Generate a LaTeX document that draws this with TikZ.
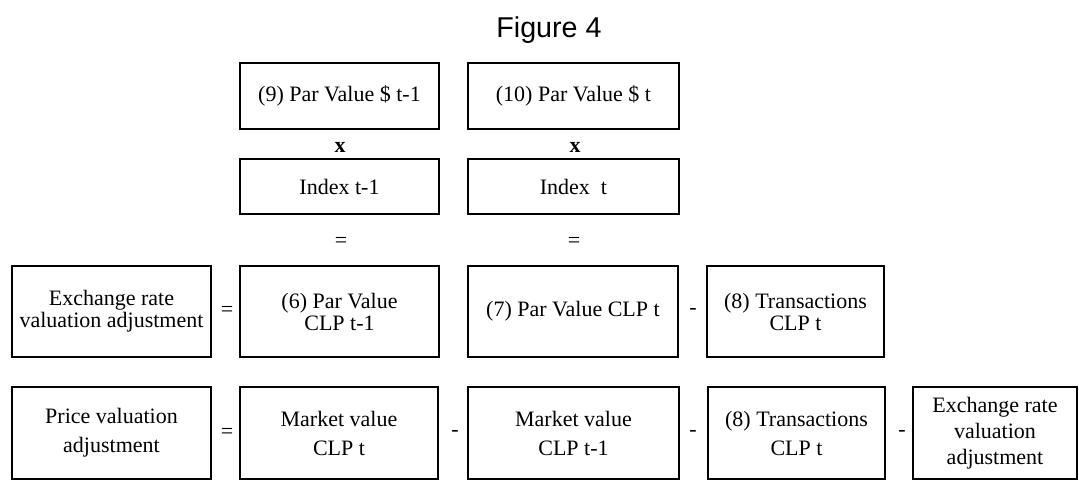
\documentclass[tikz,border=0pt]{standalone}
\usepackage{fontspec}
\setmainfont{Liberation Serif}
\newfontfamily\titlefont{Liberation Sans}
\tikzset{
  box/.style={draw=black, line width=1.3pt, rectangle, align=center, inner sep=1pt,
              font=\fontsize{16.5}{16.5}\selectfont},
  rowthree/.style={box, minimum height=68.25pt, font=\fontsize{16.5}{16.5}\selectfont},
  rowfour/.style={box, minimum height=69pt, font=\fontsize{16.5}{21.75}\selectfont},
  op/.style={inner sep=0pt, font=\fontsize{16.5}{16.5}\selectfont},
}
\begin{document}
\begin{tikzpicture}[x=0.75pt, y=-0.75pt]
\useasboundingbox (0,0) rectangle (1079,488);

% title
\node (title) at (549,30) {\titlefont\fontsize{21.5}{21.5}\selectfont Figure 4};

% dollar par values and indices
\node[box, minimum width=149.25pt, minimum height=49.5pt] (p9)  at (339.5,96) {(9) Par Value \$ t-1};
\node[box, minimum width=158.25pt, minimum height=49.5pt] (p10) at (573.5,96) {(10) Par Value \$ t};
\node[op, font=\fontsize{16.5}{16.5}\selectfont\bfseries] (x1) at (340,147) {x};
\node[op, font=\fontsize{16.5}{16.5}\selectfont\bfseries] (x2) at (575,147) {x};
\node[box, minimum width=149.25pt, minimum height=41.25pt] (i1) at (339.5,186.5) {Index t-1};
\node[box, minimum width=158.25pt, minimum height=41.25pt] (i2) at (573.5,186.5) {Index\ \ t};
\node[op] (e1) at (341,242) {=};
\node[op] (e2) at (574,242) {=};

% exchange rate valuation adjustment
\node[rowthree, minimum width=149.25pt] (era) at (111.5,311.5) {Exchange rate\\valuation adjustment};
\node[op] (e3) at (227,311) {=};
\node[rowthree, minimum width=149.25pt] (p6) at (339.5,311.5) {(6) Par Value\\CLP t-1};
\node[rowthree, minimum width=157.5pt] (p7) at (573,311.5) {(7) Par Value CLP t};
\node[op] (m1) at (693,311) {-};
\node[rowthree, minimum width=132.75pt] (t1) at (795.5,311.5) {(8) Transactions\\CLP t};

% price valuation adjustment
\node[rowfour, minimum width=149.25pt] (pva) at (111.5,433) {Price valuation\\adjustment};
\node[op] (e4) at (227,433) {=};
\node[rowfour, minimum width=148.5pt] (mv1) at (339,433) {Market value\\CLP t};
\node[op] (m2) at (455,433) {-};
\node[rowfour, minimum width=158.25pt] (mv2) at (573.5,433) {Market value\\CLP t-1};
\node[op] (m3) at (693,433) {-};
\node[rowfour, minimum width=132.75pt] (t2) at (796.5,433) {(8) Transactions\\CLP t};
\node[op] (m4) at (902,433) {-};
\node[rowfour, minimum width=123pt, font=\fontsize{16.5}{19.5}\selectfont] (erb) at (995,433) {Exchange rate\\valuation\\adjustment};
\end{tikzpicture}
\end{document}
